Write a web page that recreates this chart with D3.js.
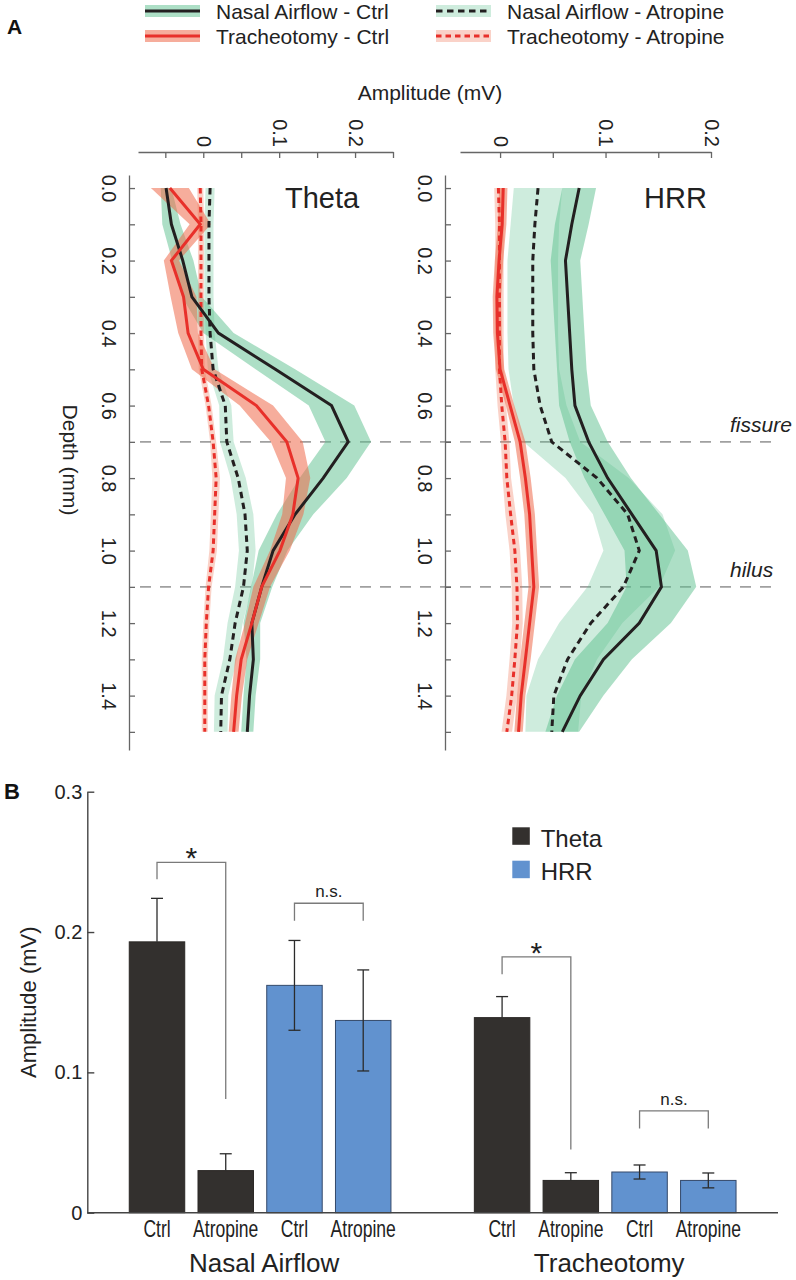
<!DOCTYPE html>
<html>
<head>
<meta charset="utf-8">
<script src="https://cdn.jsdelivr.net/npm/d3@7"></script>
<style>
  body { margin: 0; background: #fff; }
  svg { display: block; font-family: "Liberation Sans", Arial, sans-serif; }
</style>
</head>
<body>
<svg id="chart" width="796" height="1280"></svg>
<script>
// ////////////////////////////////////////////////////////////////////////////
// DATA
// ////////////////////////////////////////////////////////////////////////////

// depth profiles (mm) - one value every 0.1 mm
const depths = [0.0, 0.1, 0.2, 0.3, 0.4, 0.5, 0.6, 0.7, 0.8, 0.9, 1.0, 1.1, 1.2, 1.3, 1.4, 1.5];

// Theta amplitude (mV), mean and sem
const thetaNasalCtrl = [-0.049, -0.042, -0.027, -0.015, 0.020, 0.095, 0.169, 0.191, 0.158, 0.121, 0.092, 0.077, 0.064, 0.066, 0.061, 0.058];
const thetaNasalCtrlSem = [0.007, 0.012, 0.014, 0.013, 0.02, 0.026, 0.03, 0.03, 0.031, 0.024, 0.019, 0.014, 0.011, 0.009, 0.008, 0.008];
const thetaNasalAtr = [0.009, 0.0075, 0.0075, 0.0075, 0.009, 0.013, 0.029, 0.031, 0.046, 0.055, 0.058, 0.053, 0.042, 0.035, 0.024, 0.023];
const thetaNasalAtrSem = [0.006, 0.006, 0.006, 0.006, 0.006, 0.007, 0.008, 0.009, 0.01, 0.011, 0.011, 0.011, 0.01, 0.009, 0.009, 0.009];
const thetaTrachCtrl = [-0.044, -0.004, -0.042, -0.026, -0.020, 0.000, 0.070, 0.110, 0.125, 0.118, 0.101, 0.077, 0.064, 0.050, 0.044, 0.040];
const thetaTrachCtrlSem = [0.025, 0.014, 0.01, 0.017, 0.013, 0.015, 0.022, 0.021, 0.016, 0.014, 0.013, 0.011, 0.009, 0.008, 0.007, 0.0065];
const thetaTrachAtr = [-0.004, -0.003, -0.003, -0.003, -0.003, -0.002, 0.007, 0.013, 0.017, 0.015, 0.013, 0.007, 0.004, 0.002, 0.002, 0.002];
const thetaTrachAtrSem = [0.004, 0.004, 0.004, 0.004, 0.004, 0.004, 0.004, 0.004, 0.005, 0.005, 0.005, 0.004, 0.004, 0.004, 0.004, 0.004];

// HRR amplitude (mV), mean and sem
const hrrNasalCtrl = [0.075, 0.068, 0.062, 0.064, 0.066, 0.068, 0.071, 0.084, 0.102, 0.125, 0.148, 0.153, 0.132, 0.098, 0.076, 0.059];
const hrrNasalCtrlSem = [0.016, 0.016, 0.014, 0.014, 0.014, 0.014, 0.015, 0.018, 0.022, 0.026, 0.03, 0.033, 0.03, 0.027, 0.022, 0.016];
const hrrNasalAtr = [0.036, 0.033, 0.031, 0.031, 0.031, 0.032, 0.038, 0.049, 0.092, 0.121, 0.132, 0.117, 0.086, 0.064, 0.051, 0.049];
const hrrNasalAtrSem = [0.023, 0.023, 0.024, 0.024, 0.024, 0.024, 0.025, 0.027, 0.03, 0.033, 0.034, 0.034, 0.03, 0.028, 0.026, 0.025];
const hrrTrachCtrl = [0.003, 0.002, -0.001, -0.003, -0.0025, 0.000, 0.0095, 0.019, 0.024, 0.028, 0.030, 0.032, 0.028, 0.024, 0.020, 0.0175];
const hrrTrachCtrlSem = [0.004, 0.004, 0.004, 0.004, 0.004, 0.004, 0.004, 0.005, 0.005, 0.005, 0.005, 0.005, 0.005, 0.005, 0.004, 0.004];
const hrrTrachAtr = [-0.0016, -0.0006, -0.0006, -0.0006, -0.0006, -0.0006, 0.0016, 0.0048, 0.0064, 0.010, 0.014, 0.016, 0.0165, 0.014, 0.011, 0.0064];
const hrrTrachAtrSem = [0.004, 0.004, 0.004, 0.004, 0.004, 0.004, 0.004, 0.004, 0.004, 0.005, 0.005, 0.005, 0.005, 0.005, 0.005, 0.005];

const depthTicks = [0.0, 0.1, 0.2, 0.3, 0.4, 0.5, 0.6, 0.7, 0.8, 0.9, 1.0, 1.1, 1.2, 1.3, 1.4, 1.5];
const depthLabels = ['0.0', '0.2', '0.4', '0.6', '0.8', '1.0', '1.2', '1.4'];
const thetaTicks = [-0.05, 0, 0.05, 0.1, 0.15, 0.2, 0.25];
const hrrTicks = [0, 0.05, 0.1, 0.15, 0.2];
const ampLabels = ['0', '0.1', '0.2'];
const layers = ['fissure', 'hilus'];
const layerDepths = [0.7, 1.1];

// bar chart
const barGroups = ['Nasal Airflow', 'Tracheotomy'];
const barConds = ['Ctrl', 'Atropine', 'Ctrl', 'Atropine'];
const barBands = ['Theta', 'Theta', 'HRR', 'HRR'];
const nasalMeans = [0.193, 0.030, 0.162, 0.137];
const nasalSems = [0.031, 0.012, 0.032, 0.036];
const trachMeans = [0.139, 0.023, 0.029, 0.023];
const trachSems = [0.015, 0.0055, 0.005, 0.0053];
const barTicks = [0, 0.1, 0.2, 0.3];
// significance brackets: [group, barA, barB, top, legA, legB, label]
const sigs = [
  ['Nasal Airflow', 0, 1, 0.2497, 0.2376, 0.081, '*'],
  ['Nasal Airflow', 2, 3, 0.2205, 0.208, 0.208, 'n.s.'],
  ['Tracheotomy', 0, 1, 0.1823, 0.170, 0.045, '*'],
  ['Tracheotomy', 2, 3, 0.0725, 0.060, 0.060, 'n.s.'],
];

// ////////////////////////////////////////////////////////////////////////////
// SET UP
// ////////////////////////////////////////////////////////////////////////////
const svg = d3.select('#chart');
const ink = '#222';
const axisGray = '#666';
const redLine = '#e8302a';
const blackLine = '#231f20';

const series = [
  { key: 'nasalAtr', line: blackLine, band: '#5cc08e', bandOp: 0.3, dash: '6.5,4.5' },
  { key: 'nasalCtrl', line: blackLine, band: '#5cc08e', bandOp: 0.5, dash: null },
  { key: 'trachAtr', line: redLine, band: '#ee6a4a', bandOp: 0.3, dash: '5.5,4' },
  { key: 'trachCtrl', line: redLine, band: '#ee6a4a', bandOp: 0.55, dash: null },
];

const thetaData = {
  nasalCtrl: [thetaNasalCtrl, thetaNasalCtrlSem],
  nasalAtr: [thetaNasalAtr, thetaNasalAtrSem],
  trachCtrl: [thetaTrachCtrl, thetaTrachCtrlSem],
  trachAtr: [thetaTrachAtr, thetaTrachAtrSem],
};
const hrrData = {
  nasalCtrl: [hrrNasalCtrl, hrrNasalCtrlSem],
  nasalAtr: [hrrNasalAtr, hrrNasalAtrSem],
  trachCtrl: [hrrTrachCtrl, hrrTrachCtrlSem],
  trachAtr: [hrrTrachAtr, hrrTrachAtrSem],
};

// depth scale shared by both profile panels
const yDepth = d3.scaleLinear().domain([-0.036, 1.55]).range([175, 750]);
const axisTopY = 152;

// ////////////////////////////////////////////////////////////////////////////
// PANEL A - LEGEND
// ////////////////////////////////////////////////////////////////////////////
const legendItems = [
  { s: series[1], label: 'Nasal Airflow - Ctrl', col: 0, row: 0 },
  { s: series[3], label: 'Tracheotomy - Ctrl', col: 0, row: 1 },
  { s: series[0], label: 'Nasal Airflow - Atropine', col: 1, row: 0 },
  { s: series[2], label: 'Tracheotomy - Atropine', col: 1, row: 1 },
];
const legCols = [145, 436];
const legRows = [11, 36];
legendItems.forEach((it) => {
  const g = svg.append('g').attr('transform', `translate(${legCols[it.col]},${legRows[it.row]})`);
  g.append('rect').attr('x', 0).attr('y', -6).attr('width', 55).attr('height', 12)
    .attr('fill', it.s.band).attr('fill-opacity', it.s.bandOp);
  g.append('line').attr('x1', 0).attr('x2', 55).attr('y1', 0).attr('y2', 0)
    .attr('stroke', it.s.line).attr('stroke-width', 3)
    .attr('stroke-dasharray', it.s.dash);
  g.append('text').attr('x', 71).attr('y', 7.5).attr('font-size', 21).attr('fill', ink)
    .text(it.label);
});

svg.append('text').attr('x', 7).attr('y', 34).attr('font-size', 21).attr('font-weight', 'bold')
  .attr('fill', '#111').text('A');

svg.append('text').attr('x', 430).attr('y', 100).attr('font-size', 21).attr('text-anchor', 'middle')
  .attr('fill', ink).text('Amplitude (mV)');

// ////////////////////////////////////////////////////////////////////////////
// PANEL A - PROFILES
// ////////////////////////////////////////////////////////////////////////////
function drawProfile(opts) {
  const { x, data, ticks, yAxisX, title, titleX } = opts;
  const g = svg.append('g');

  // top amplitude axis
  const xAxis = d3.axisTop(x).tickValues(ticks).tickSizeInner(-6).tickSizeOuter(0)
    .tickFormat(d => (ampLabels.includes(d3.format('')(+d.toFixed(2))) ? d3.format('')(+d.toFixed(2)) : ''));
  const gx = g.append('g').attr('transform', `translate(0,${axisTopY})`).call(xAxis);
  gx.select('.domain').attr('stroke', axisGray).attr('stroke-width', 1.3);
  gx.selectAll('.tick line').attr('stroke', axisGray).attr('stroke-width', 1.3);
  gx.selectAll('.tick text')
    .attr('x', -5).attr('y', 0).attr('dy', '0.35em')
    .attr('transform', 'rotate(90)')
    .attr('text-anchor', 'end')
    .attr('font-size', 20).attr('font-family', null).attr('fill', ink);

  // left depth axis
  const yAxis = d3.axisLeft(yDepth).tickValues(depthTicks).tickSizeInner(-6).tickSizeOuter(0)
    .tickFormat(d => (depthLabels.includes(d3.format('.1f')(d)) ? d3.format('.1f')(d) : ''));
  const gy = g.append('g').attr('transform', `translate(${yAxisX},0)`).call(yAxis);
  gy.select('.domain').attr('stroke', axisGray).attr('stroke-width', 1.3);
  gy.selectAll('.tick line').attr('stroke', axisGray).attr('stroke-width', 1.3);
  gy.selectAll('.tick text')
    .attr('x', 0).attr('y', 20).attr('dy', '0.35em')
    .attr('transform', 'rotate(90)')
    .attr('text-anchor', 'middle')
    .attr('font-size', 20).attr('font-family', null).attr('fill', ink);

  const area = d3.area()
    .y(d => yDepth(d.depth))
    .x0(d => x(d.mean - d.sem))
    .x1(d => x(d.mean + d.sem));
  const line = d3.line()
    .y(d => yDepth(d.depth))
    .x(d => x(d.mean));

  const rows = {};
  series.forEach((s) => {
    const [mean, sem] = data[s.key];
    rows[s.key] = depths.map((dp, i) => ({ depth: dp, mean: mean[i], sem: sem[i] }));
  });

  series.forEach((s) => {
    g.append('path').datum(rows[s.key]).attr('d', area)
      .attr('fill', s.band).attr('fill-opacity', s.bandOp).attr('stroke', 'none');
  });
  // dashed first, solid on top
  [series[0], series[2], series[1], series[3]].forEach((s) => {
    g.append('path').datum(rows[s.key]).attr('d', line)
      .attr('fill', 'none').attr('stroke', s.line).attr('stroke-width', 3)
      .attr('stroke-dasharray', s.dash).attr('stroke-linejoin', 'miter');
  });

  g.append('text').attr('x', titleX).attr('y', 208).attr('font-size', 29).attr('fill', ink).text(title);
}

const xTheta = d3.scaleLinear().domain([-0.086, 0.25]).range([138, 393]);
const xHrr = d3.scaleLinear().domain([-0.038, 0.2]).range([460, 711]);

// layer reference lines, behind data
layerDepths.forEach((dp, i) => {
  svg.append('line').attr('x1', 140).attr('x2', 780)
    .attr('y1', yDepth(dp)).attr('y2', yDepth(dp))
    .attr('stroke', '#a0a0a0').attr('stroke-width', 1.6).attr('stroke-dasharray', '11,9');
  svg.append('text').attr('x', 730).attr('y', yDepth(dp) - 10)
    .attr('font-size', 21).attr('font-style', 'italic').attr('fill', ink).text(layers[i]);
});

drawProfile({ x: xTheta, data: thetaData, ticks: thetaTicks, yAxisX: 129, title: 'Theta', titleX: 285 });
drawProfile({ x: xHrr, data: hrrData, ticks: hrrTicks, yAxisX: 445, title: 'HRR', titleX: 644 });

svg.append('text')
  .attr('transform', `translate(63,${(yDepth(0.75))}) rotate(90)`)
  .attr('text-anchor', 'middle').attr('font-size', 21).attr('fill', ink)
  .text('Depth (mm)');

// ////////////////////////////////////////////////////////////////////////////
// PANEL B - BARS
// ////////////////////////////////////////////////////////////////////////////
const barColors = { Theta: '#33302e', HRR: '#6192cf' };
const barStroke = { Theta: '#2a2725', HRR: '#34496a' };

const yBar = d3.scaleLinear().domain([0, 0.3]).range([1212.7, 791.7]);
const x0 = d3.scaleBand().domain(barGroups).range([87.3, 778])
  .paddingInner(0.2417).paddingOuter(0.1216);
const x1 = d3.scaleBand().domain(d3.range(barConds.length)).range([0, x0.bandwidth()])
  .paddingInner(0.193).paddingOuter(0);

const barData = [];
barGroups.forEach((grp, gi) => {
  const means = gi === 0 ? nasalMeans : trachMeans;
  const sems = gi === 0 ? nasalSems : trachSems;
  barConds.forEach((c, i) => {
    barData.push({ group: grp, idx: i, cond: c, band: barBands[i], mean: means[i], sem: sems[i] });
  });
});
const barX = d => x0(d.group) + x1(d.idx);
const barCx = (grp, i) => x0(grp) + x1(i) + x1.bandwidth() / 2;

svg.append('text').attr('x', 4).attr('y', 799).attr('font-size', 22).attr('font-weight', 'bold')
  .attr('fill', '#111').text('B');

// axes
const gyb = svg.append('g').attr('transform', 'translate(87.3,0)')
  .call(d3.axisLeft(yBar).tickValues(barTicks).tickSizeInner(-7).tickSizeOuter(0)
    .tickFormat(d => (d === 0 ? '0' : d3.format('.1f')(d))));
gyb.select('.domain').attr('stroke', '#444').attr('stroke-width', 1.4);
gyb.selectAll('.tick line').attr('stroke', '#444').attr('stroke-width', 1.4);
gyb.selectAll('.tick text').attr('x', -5).attr('font-size', 20).attr('font-family', null).attr('fill', ink);

svg.append('text')
  .attr('transform', `translate(36,${yBar(0.15)}) rotate(-90)`)
  .attr('text-anchor', 'middle').attr('font-size', 22).attr('fill', ink)
  .text('Amplitude (mV)');

// bars
svg.append('g').selectAll('rect.bar').data(barData).enter()
  .append('rect')
    .attr('class', 'bar')
    .attr('x', barX)
    .attr('y', d => yBar(d.mean))
    .attr('width', x1.bandwidth())
    .attr('height', d => yBar(0) - yBar(d.mean))
    .attr('fill', d => barColors[d.band])
    .attr('stroke', d => barStroke[d.band])
    .attr('stroke-width', 1);

// error bars (theta bars drawn one-sided)
const capW = 6;
barData.forEach((d) => {
  const cx = barCx(d.group, d.idx);
  const lo = d.band === 'Theta' ? d.mean : d.mean - d.sem;
  const hi = d.mean + d.sem;
  const col = '#2b2b2b';
  svg.append('line').attr('x1', cx).attr('x2', cx).attr('y1', yBar(lo)).attr('y2', yBar(hi))
    .attr('stroke', col).attr('stroke-width', 1.3);
  svg.append('line').attr('x1', cx - capW).attr('x2', cx + capW).attr('y1', yBar(hi)).attr('y2', yBar(hi))
    .attr('stroke', col).attr('stroke-width', 1.3);
  if (d.band !== 'Theta') {
    svg.append('line').attr('x1', cx - capW).attr('x2', cx + capW).attr('y1', yBar(lo)).attr('y2', yBar(lo))
      .attr('stroke', col).attr('stroke-width', 1.3);
  }
});

// x axis baseline
svg.append('line').attr('x1', 87.3).attr('x2', 778).attr('y1', yBar(0)).attr('y2', yBar(0))
  .attr('stroke', '#444').attr('stroke-width', 1.5);

// condition labels (condensed type)
barData.forEach((d) => {
  svg.append('text')
    .attr('transform', `translate(${barCx(d.group, d.idx)},1237) scale(0.73,1)`)
    .attr('text-anchor', 'middle').attr('font-size', 24).attr('fill', ink)
    .text(d.cond);
});
barGroups.forEach((grp) => {
  svg.append('text').attr('x', x0(grp) + x0.bandwidth() / 2 + 4).attr('y', 1272)
    .attr('text-anchor', 'middle').attr('font-size', 26).attr('fill', ink).text(grp);
});

// significance brackets
sigs.forEach(([grp, a, b, top, legA, legB, label]) => {
  const xa = barCx(grp, a);
  const xb = barCx(grp, b);
  svg.append('path')
    .attr('d', `M${xa},${yBar(legA)}V${yBar(top)}H${xb}V${yBar(legB)}`)
    .attr('fill', 'none').attr('stroke', '#7a7a7a').attr('stroke-width', 1.3);
  const star = label === '*';
  svg.append('text')
    .attr('x', (xa + xb) / 2)
    .attr('y', star ? yBar(top) + 6 : yBar(top) - 6)
    .attr('text-anchor', 'middle')
    .attr('font-size', star ? 30 : 17)
    .attr('fill', ink)
    .text(label);
});

// bar legend
['Theta', 'HRR'].forEach((b, i) => {
  const y = 827.3 + i * 33.4;
  svg.append('rect').attr('x', 512.3).attr('y', y).attr('width', 17.5).attr('height', 17.5)
    .attr('fill', barColors[b]);
  svg.append('text').attr('x', 540.7).attr('y', y + 19.5).attr('font-size', 24).attr('fill', ink).text(b);
});
</script>
</body>
</html>
